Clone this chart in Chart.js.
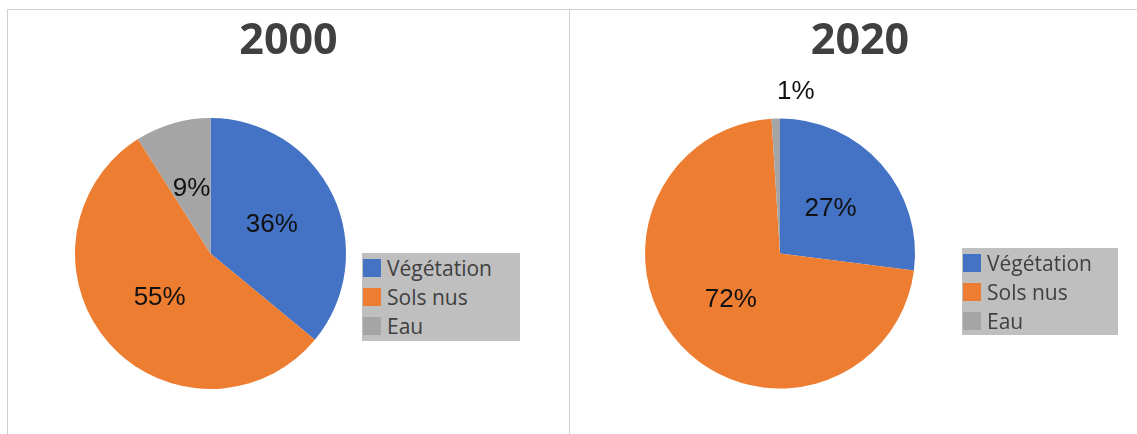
<!DOCTYPE html>
<html>
<head>
<meta charset="utf-8">
<script src="https://cdn.jsdelivr.net/npm/chart.js@4"></script>
<style>
	html, body { margin: 0; padding: 0; background: #fff; overflow: hidden; }
	body { width: 1137px; height: 434px; position: relative; }
	.panel { position: absolute; top: 9px; border-top: 1px solid #d0d0d0; border-left: 1px solid #d0d0d0; }
	.panel canvas { position: absolute; left: 0; top: 0; }
	.legend { position: absolute; background: #bfbfbf; font-family: "Open Sans", sans-serif; font-size: 21px; color: #404040; }
	.legend .item { position: absolute; left: 1px; height: 29px; line-height: 29px; white-space: nowrap; }
	.legend .swatch { display: inline-block; width: 18px; height: 18px; vertical-align: middle; margin-right: 6px; position: relative; top: -2px; }
</style>
</head>
<body>
<div class="panel" id="panel-left" style="left:7px; width:561px; height:440px;">
	<canvas id="chart-2000"></canvas>
	<div class="legend" id="legend-2000" style="left:354px; top:243px; width:158px; height:88px;"></div>
</div>
<div class="panel" id="panel-right" style="left:569px; width:590px; height:440px;">
	<canvas id="chart-2020"></canvas>
	<div class="legend" id="legend-2020" style="left:392px; top:238px; width:156px; height:87px;"></div>
</div>

<script>
const categories = ['Végétation', 'Sols nus', 'Eau'];
const values2000 = [36, 55, 9];
const values2020 = [27, 72, 1];
const colors = ['#4472C4', '#ED7D31', '#A5A5A5'];

// Title drawn at the middle of the panel (the pie itself is off-center)
const panelTitle = {
	id: 'panelTitle',
	afterDraw(chart, args, opts) {
		const ctx = chart.ctx;
		ctx.save();
		ctx.font = 'bold 43px "Open Sans", sans-serif';
		ctx.fillStyle = '#404040';
		ctx.textAlign = 'center';
		ctx.textBaseline = 'middle';
		ctx.fillText(opts.text, chart.width / 2 + (opts.shift || 0), 32);
		ctx.restore();
	}
};

// Percentage labels, inside the slice, or above it when the slice is tiny
const sliceLabels = {
	id: 'sliceLabels',
	afterDatasetsDraw(chart) {
		const ctx = chart.ctx;
		const meta = chart.getDatasetMeta(0);
		const data = chart.data.datasets[0].data;
		const total = data.reduce((a, b) => a + b, 0);
		ctx.save();
		ctx.font = '26px "Liberation Sans", Arial, sans-serif';
		ctx.fillStyle = '#111';
		ctx.textAlign = 'center';
		ctx.textBaseline = 'middle';
		meta.data.forEach((arc, i) => {
			const p = arc.getProps(['x', 'y', 'startAngle', 'endAngle', 'outerRadius'], true);
			const mid = (p.startAngle + p.endAngle) / 2;
			const pct = Math.round(data[i] / total * 100) + '%';
			let r = p.outerRadius * 0.5;
			let dx = 0;
			if (data[i] / total < 0.04) {
				r = p.outerRadius + 27;
				dx = 21;
			}
			ctx.fillText(pct, p.x + Math.cos(mid) * r + dx, p.y + Math.sin(mid) * r);
		});
		ctx.restore();
	}
};

function createPie(canvasId, values, title, padding, shift) {
	const canvas = document.getElementById(canvasId);
	canvas.width = canvas.parentElement.clientWidth;
	canvas.height = 425;
	canvas.style.width = canvas.width + 'px';
	canvas.style.height = canvas.height + 'px';
	return new Chart(canvas, {
		type: 'pie',
		data: {
			labels: categories,
			datasets: [{
				data: values,
				backgroundColor: colors,
				borderWidth: 0,
				hoverOffset: 0,
				offset: 0
			}]
		},
		options: {
			responsive: false,
			animation: false,
			layout: { padding: padding },
			plugins: {
				legend: { display: false },
				tooltip: { enabled: false },
				panelTitle: { text: title, shift: shift }
			}
		},
		plugins: [panelTitle, sliceLabels]
	});
}

function buildLegend(id) {
	const box = document.getElementById(id);
	categories.forEach((name, i) => {
		const item = document.createElement('div');
		item.className = 'item';
		item.style.top = (i * 29 + 1) + 'px';
		item.innerHTML = '<span class="swatch" style="background:' + colors[i] + '"></span>' + name;
		box.appendChild(item);
	});
}

createPie('chart-2000', values2000, '2000', { left: 67, right: 223, top: 108, bottom: 46 }, 0);
createPie('chart-2020', values2020, '2020', { left: 75, right: 245, top: 108, bottom: 46 }, -5);
buildLegend('legend-2000');
buildLegend('legend-2020');
</script>
</body>
</html>
